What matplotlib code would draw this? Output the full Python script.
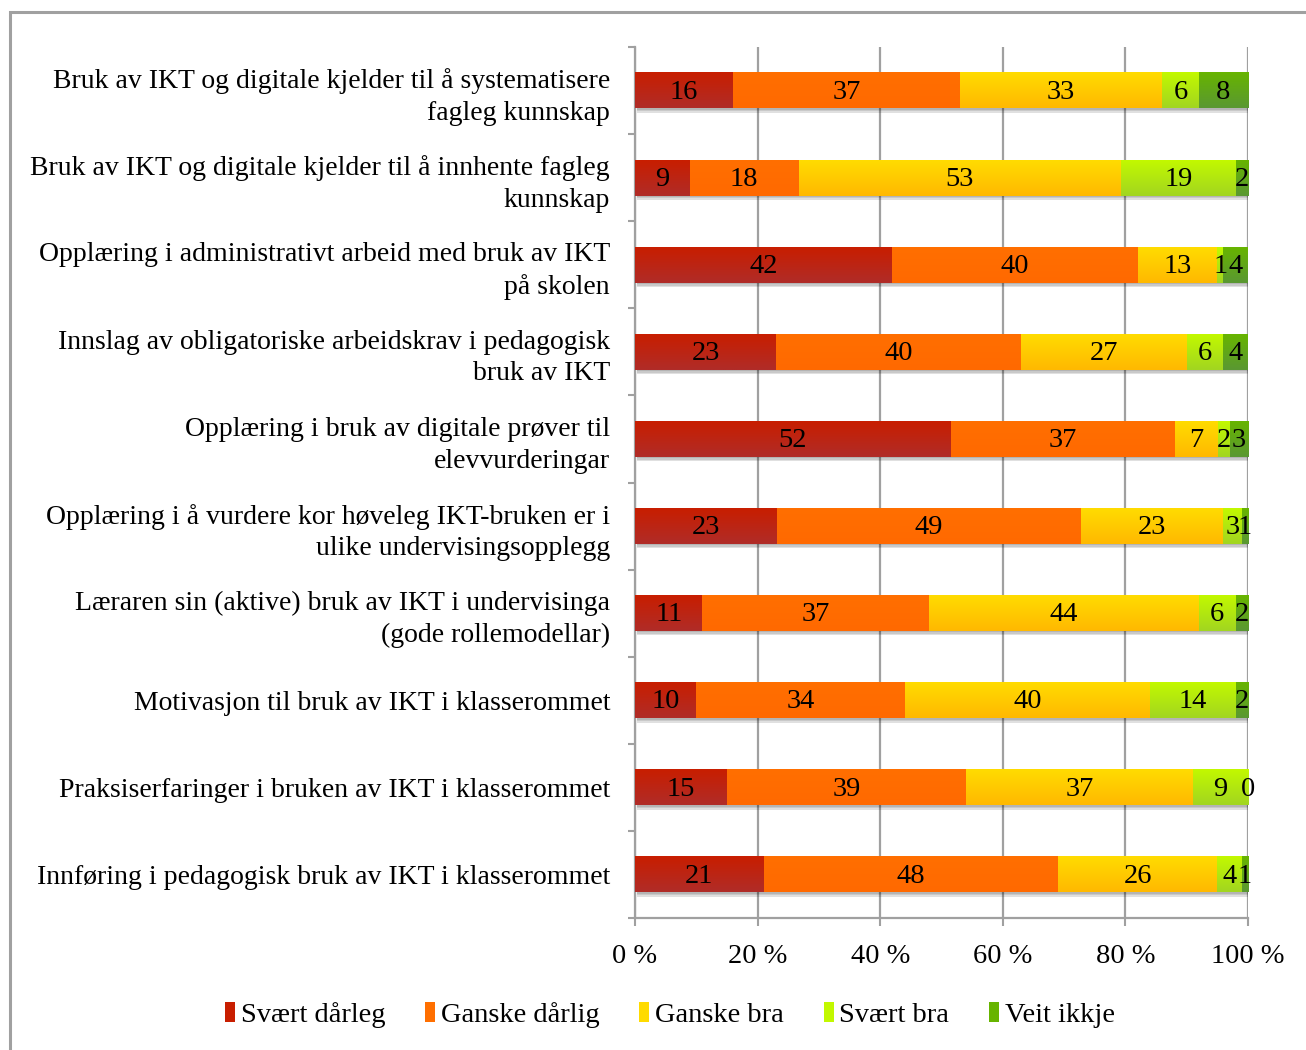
import numpy as np
import matplotlib
matplotlib.use("Agg")
import matplotlib.pyplot as plt
from matplotlib.patches import Rectangle, Patch
from matplotlib.ticker import FixedLocator

plt.rcParams['font.family'] = ['Liberation Serif', 'DejaVu Serif']

categories = [
    "Bruk av IKT og digitale kjelder til å systematisere\nfagleg kunnskap",
    "Bruk av IKT og digitale kjelder til å innhente fagleg\nkunnskap",
    "Opplæring i administrativt arbeid med bruk av IKT\npå skolen",
    "Innslag av obligatoriske arbeidskrav i pedagogisk\nbruk av IKT",
    "Opplæring i bruk av digitale prøver til\nelevvurderingar",
    "Opplæring i å vurdere kor høveleg IKT-bruken er i\nulike undervisingsopplegg",
    "Læraren sin (aktive) bruk av IKT i undervisinga\n(gode rollemodellar)",
    "Motivasjon til bruk av IKT i klasserommet",
    "Praksiserfaringer i bruken av IKT i klasserommet",
    "Innføring i pedagogisk bruk av IKT i klasserommet",
]

series = ["Svært dårleg", "Ganske dårlig", "Ganske bra", "Svært bra", "Veit ikkje"]

svaert_daarleg = [16, 9, 42, 23, 52, 23, 11, 10, 15, 21]
ganske_daarlig = [37, 18, 40, 40, 37, 49, 37, 34, 39, 48]
ganske_bra     = [33, 53, 13, 27, 7, 23, 44, 40, 37, 26]
svaert_bra     = [6, 19, 1, 6, 2, 3, 6, 14, 9, 4]
veit_ikkje     = [8, 2, 4, 4, 3, 1, 2, 2, 0, 1]

# (top colour, bottom colour) for the gradient fill
colours = [
    ("#C81E00", "#B02C28"),
    ("#FF6F00", "#FF6900"),
    ("#FFDB00", "#FFB900"),
    ("#C2F800", "#A2D620"),
    ("#67B400", "#5A9832"),
]

data = np.array([svaert_daarleg, ganske_daarlig, ganske_bra, svaert_bra, veit_ikkje], dtype=float)
pct = data / data.sum(axis=0) * 100

W, H = 1306, 1050
fig = plt.figure(figsize=(W / 100, H / 100), dpi=100)
ax = fig.add_axes([635 / W, 1 - 918 / H, (1248 - 635) / W, (918 - 47) / H])

grey = "#A0A0A0"
fig.patches.append(Rectangle((10 / W, -0.1), 1.2, 0.1 + 1 - 12 / H, transform=fig.transFigure,
                             fill=False, edgecolor=grey, linewidth=2.2, zorder=0))

n = len(categories)
bar_h = 0.41
ypos = np.arange(n)[::-1]
fs = 20.5

def hex2rgb(h):
    return np.array([int(h[i:i + 2], 16) / 255 for i in (1, 3, 5)])

for i in range(n):
    y = ypos[i]
    # soft shadow
    for k, a in enumerate([0.10, 0.10, 0.12]):
        off = 0.017 * (k + 1)
        ax.add_patch(Rectangle((0.4, y - bar_h / 2 - off), 100, bar_h, facecolor="black",
                               alpha=a, linewidth=0, zorder=2))
    left = 0.0
    for j in range(len(series)):
        w = pct[j, i]
        top, bot = hex2rgb(colours[j][0]), hex2rgb(colours[j][1])
        t = np.linspace(0, 1, 32)[:, None]
        grad = (bot * (1 - t) + top * t)[:, None, :]
        if w > 0:
            ax.imshow(grad, extent=(left, left + w, y - bar_h / 2, y + bar_h / 2),
                      origin="lower", aspect="auto", interpolation="bilinear", zorder=3)
        ax.text(left + w / 2, y - 0.02, str(int(data[j, i])), ha="center", va="center",
                fontsize=fs, color="black", zorder=5)
        left += w

ax.set_xlim(0, 100)
ax.set_ylim(-0.5, n - 0.5)
ax.set_aspect("auto")

ax.set_xticks(np.arange(0, 101, 20))
ax.set_xticklabels([f"{v} %" for v in range(0, 101, 20)], fontsize=fs)
ax.set_yticks(ypos)
ax.set_yticklabels(categories, fontsize=20, linespacing=1.35)
ax.yaxis.set_minor_locator(FixedLocator(np.arange(-0.5, n, 1.0)))
ax.tick_params(axis="y", which="major", length=0, pad=18)
ax.tick_params(axis="y", which="minor", length=5, width=1.5, color=grey)
ax.tick_params(axis="x", which="major", length=6, width=1.5, color=grey, pad=13)

ax.grid(axis="x", color=grey, linewidth=1.6, zorder=1)
ax.set_axisbelow(True)
for s in ["top", "right"]:
    ax.spines[s].set_visible(False)
for s in ["left", "bottom"]:
    ax.spines[s].set_color(grey)
    ax.spines[s].set_linewidth(1.6)

handles = [Patch(facecolor=colours[j][0], edgecolor="none", label=series[j]) for j in range(len(series))]
fig.legend(handles=handles, loc="center", bbox_to_anchor=(670 / W, 1 - 1015 / H), ncol=5,
           frameon=False, fontsize=fs, handlelength=0.35, handleheight=0.7,
           handletextpad=0.2, columnspacing=1.4)

fig.savefig("out.png", dpi=100)
